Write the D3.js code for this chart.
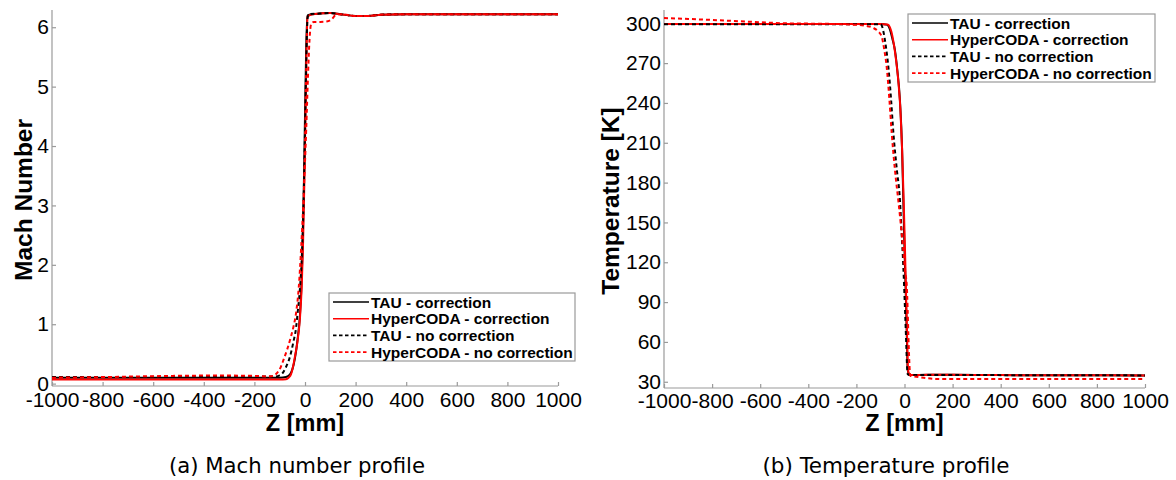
<!DOCTYPE html>
<html>
<head>
<meta charset="utf-8">
<script src="https://cdn.jsdelivr.net/npm/d3@7"></script>
<style>
  html, body { margin: 0; padding: 0; background: #fff; }
  svg { display: block; }
  .tick text { font-family: "Liberation Sans", Arial, sans-serif; font-size: 21px; fill: #000; }
  .axis path, .axis line { stroke: #9a9a9a; stroke-width: 1.2; }
</style>
</head>
<body>
<svg id="chart" width="1176" height="480"></svg>
<script>
// ---- Mach number profile along Z [mm] ----
const machTauCorrZ = [-1000, -500, -100, -75, -60, -50, -40, -30, -20, -15, -10, -5, 0, 5, 10, 30, 60, 100, 140, 200, 250, 300, 400, 600, 800, 1000];
const machTauCorrM = [0.10, 0.10, 0.10, 0.11, 0.15, 0.24, 0.42, 0.72, 1.15, 1.55, 2.2, 3.2, 4.5, 5.7, 6.2, 6.22, 6.23, 6.24, 6.22, 6.19, 6.19, 6.21, 6.22, 6.22, 6.22, 6.22];

const machHcCorrZ = [-1000, -500, -100, -75, -65, -55, -47, -40, -30, -20, -13, -8, -3, 2, 6, 10, 30, 60, 100, 140, 200, 250, 300, 400, 600, 800, 1000];
const machHcCorrM = [0.07, 0.07, 0.07, 0.075, 0.10, 0.16, 0.29, 0.45, 0.70, 1.10, 1.63, 2.3, 3.3, 4.6, 5.6, 6.18, 6.22, 6.23, 6.24, 6.22, 6.19, 6.19, 6.21, 6.22, 6.22, 6.22, 6.22];

const machTauNoCorrZ = [-1000, -500, -200, -120, -100, -90, -75, -59, -46, -35, -29, -20, -12, -6, 0, 5, 10, 15, 60, 100, 140, 200, 250, 300, 400, 600, 800, 1000];
const machTauNoCorrM = [0.11, 0.115, 0.12, 0.12, 0.14, 0.17, 0.28, 0.46, 0.70, 0.95, 1.2, 1.6, 2.2, 3.0, 4.2, 5.4, 6.15, 6.22, 6.23, 6.24, 6.22, 6.19, 6.19, 6.21, 6.22, 6.22, 6.22, 6.22];

const machHcNoCorrZ = [-1000, -800, -600, -400, -300, -200, -150, -126, -110, -100, -85, -70, -55, -46, -35, -25, -15, -5, 5, 12, 18, 24, 35, 60, 90, 105, 120, 140, 200, 250, 300, 400, 600, 800, 1000];
const machHcNoCorrM = [0.10, 0.11, 0.125, 0.135, 0.135, 0.13, 0.12, 0.13, 0.18, 0.24, 0.40, 0.58, 0.80, 0.95, 1.2, 1.6, 2.3, 3.2, 4.3, 5.2, 5.8, 6.05, 6.09, 6.09, 6.10, 6.13, 6.20, 6.22, 6.19, 6.19, 6.21, 6.22, 6.22, 6.22, 6.22];

// ---- Temperature profile along Z [mm] ----
const tempTauCorrZ = [-1000, -500, -100, -75, -67, -60, -50, -40, -30, -19, -10, -5, 0, 6, 10, 13, 17, 20, 100, 200, 400, 700, 1000];
const tempTauCorrT = [299.5, 299.5, 299.5, 299, 298, 295, 288, 280, 265, 242, 205, 167, 130, 92, 62, 40, 36, 35, 35.3, 35.2, 35, 34.9, 34.8];

const tempHcCorrZ = [-1000, -500, -100, -70, -62, -55, -45, -35, -25, -17, -10, -4, 2, 7, 11, 14, 18, 22, 100, 200, 400, 700, 1000];
const tempHcCorrT = [299.5, 299.5, 299.5, 299, 297.5, 294, 285, 272, 255, 235, 205, 170, 130, 92, 62, 40, 36, 35, 35.3, 35.2, 35, 34.9, 34.8];

const tempTauNoCorrZ = [-1000, -500, -100, -95, -88, -81, -74, -67, -56, -46, -32, -19, -12, -5, 2, 7, 11, 14, 20, 200, 600, 1000];
const tempTauNoCorrT = [299.3, 299.3, 299.2, 298.5, 294, 287, 278, 267, 243, 217, 190, 167, 142, 117, 85, 60, 40, 35.5, 35.2, 35.1, 34.9, 34.8];

const tempHcNoCorrZ = [-1000, -800, -600, -500, -300, -200, -160, -130, -110, -95, -84, -74, -63, -53, -40, -26, -15, -5, 3, 9, 13, 16, 20, 24, 40, 80, 120, 160, 400, 700, 1000];
const tempHcNoCorrT = [304, 302.5, 300.8, 300, 299.5, 298.8, 298, 296.5, 294, 290, 280, 267, 243, 217, 190, 167, 148, 129, 112, 104, 85, 66, 45, 34.5, 34, 33, 32.2, 32, 32, 32, 32];

// ---- Axis ticks and labels ----
const zTicks = [-1000, -800, -600, -400, -200, 0, 200, 400, 600, 800, 1000];
const machTicks = [0, 1, 2, 3, 4, 5, 6];
const tempTicks = [30, 60, 90, 120, 150, 180, 210, 240, 270, 300];
const seriesNames = ["TAU - correction", "HyperCODA - correction", "TAU - no correction", "HyperCODA - no correction"];
const seriesColors = ["#000000", "#ff0000", "#000000", "#ff0000"];
const seriesDashed = [false, false, true, true];

const svg = d3.select("#chart");

function drawPanel(cfg) {
  const g = svg.append("g");
  const x = d3.scaleLinear().domain([-1000, 1000]).range([cfg.left, cfg.right]);
  const y = d3.scaleLinear().domain(cfg.yDomain).range([cfg.bottom, cfg.top]);

  const clipId = "clip-" + cfg.id;
  svg.append("clipPath").attr("id", clipId)
    .append("rect")
    .attr("x", cfg.left).attr("y", cfg.top - 4)
    .attr("width", cfg.right - cfg.left + 2).attr("height", cfg.bottom - cfg.top + 4);

  // axes (ticks point inward)
  const xAxis = d3.axisBottom(x).tickValues(zTicks).tickSize(-4).tickPadding(cfg.xPad).tickFormat(d3.format("d"));
  g.append("g").attr("class", "axis").attr("transform", `translate(0,${cfg.bottom})`).call(xAxis)
    .call(s => s.select(".domain").attr("d", `M${cfg.left},0H${cfg.right}`))
    .selectAll(".tick text").text(d => d < 0 ? "-" + Math.abs(d) : d);

  const yAxis = d3.axisLeft(y).tickValues(cfg.yTicks).tickSize(-4).tickPadding(3).tickFormat(d3.format("d"));
  g.append("g").attr("class", "axis").attr("transform", `translate(${cfg.left},0)`).call(yAxis)
    .call(s => s.select(".domain").attr("d", `M0,${cfg.bottom}V${cfg.top}`));

  // curves
  const line = d3.line().x(d => x(d[0])).y(d => y(d[1])).curve(d3.curveMonotoneX);
  const plot = g.append("g").attr("clip-path", `url(#${clipId})`);
  cfg.series.forEach((s, i) => {
    const pts = s.z.map((z, k) => [z, s.v[k]]);
    plot.append("path")
      .datum(pts)
      .attr("d", line)
      .attr("fill", "none")
      .attr("stroke", seriesColors[i])
      .attr("stroke-width", 2)
      .attr("stroke-dasharray", seriesDashed[i] ? "4,3" : null)
      .attr("stroke-linejoin", "round");
  });

  // axis titles
  g.append("text")
    .attr("x", x(0)).attr("y", 431)
    .attr("text-anchor", "middle")
    .attr("font-family", "Liberation Sans, Arial, sans-serif")
    .attr("font-weight", "bold").attr("font-size", 23.5)
    .text("Z [mm]");
  g.append("text")
    .attr("transform", `translate(${cfg.yTitleX},${(cfg.top + cfg.bottom) / 2 + 2}) rotate(-90)`)
    .attr("text-anchor", "middle")
    .attr("font-family", "Liberation Sans, Arial, sans-serif")
    .attr("font-weight", "bold").attr("font-size", 24.5)
    .text(cfg.yTitle);

  // legend
  const lg = g.append("g").attr("transform", `translate(${cfg.legX},${cfg.legY})`);
  lg.append("rect").attr("x", 0).attr("y", 0).attr("width", cfg.legW).attr("height", 68)
    .attr("fill", "#fff").attr("stroke", "#9a9a9a").attr("stroke-width", 1.2);
  seriesNames.forEach((name, i) => {
    const cy = 9 + i * 16.7;
    lg.append("line").attr("x1", 4).attr("x2", 40).attr("y1", cy).attr("y2", cy)
      .attr("stroke", seriesColors[i]).attr("stroke-width", 1.6)
      .attr("stroke-dasharray", seriesDashed[i] ? "3.5,2.5" : null);
    lg.append("text").attr("x", 42).attr("y", cy + 5.5)
      .attr("font-family", "Liberation Sans, Arial, sans-serif")
      .attr("font-weight", "bold").attr("font-size", 15.5)
      .text(name);
  });

  // caption
  g.append("text")
    .attr("x", cfg.capX).attr("y", 473)
    .attr("text-anchor", "middle")
    .attr("font-family", "DejaVu Sans Condensed, DejaVu Sans, sans-serif")
    .attr("font-size", 21)
    .attr("textLength", cfg.capW).attr("lengthAdjust", "spacingAndGlyphs")
    .text(cfg.caption);
}

drawPanel({
  id: "mach", left: 52, right: 558, top: 10, bottom: 386, xPad: 6,
  yDomain: [-0.04, 6.29], yTicks: machTicks,
  yTitle: "Mach Number", yTitleX: 32,
  series: [
    { z: machTauCorrZ, v: machTauCorrM },
    { z: machHcCorrZ, v: machHcCorrM },
    { z: machTauNoCorrZ, v: machTauNoCorrM },
    { z: machHcNoCorrZ, v: machHcNoCorrM }
  ],
  legX: 329, legY: 293, legW: 246,
  caption: "(a) Mach number profile", capX: 297, capW: 256
});

drawPanel({
  id: "temp", left: 664, right: 1145, top: 10, bottom: 388, xPad: 5,
  yDomain: [25.3, 310], yTicks: tempTicks,
  yTitle: "Temperature [K]", yTitleX: 619,
  series: [
    { z: tempTauCorrZ, v: tempTauCorrT },
    { z: tempHcCorrZ, v: tempHcCorrT },
    { z: tempTauNoCorrZ, v: tempTauNoCorrT },
    { z: tempHcNoCorrZ, v: tempHcNoCorrT }
  ],
  legX: 908, legY: 14, legW: 247,
  caption: "(b) Temperature profile", capX: 886, capW: 247
});
</script>
</body>
</html>
